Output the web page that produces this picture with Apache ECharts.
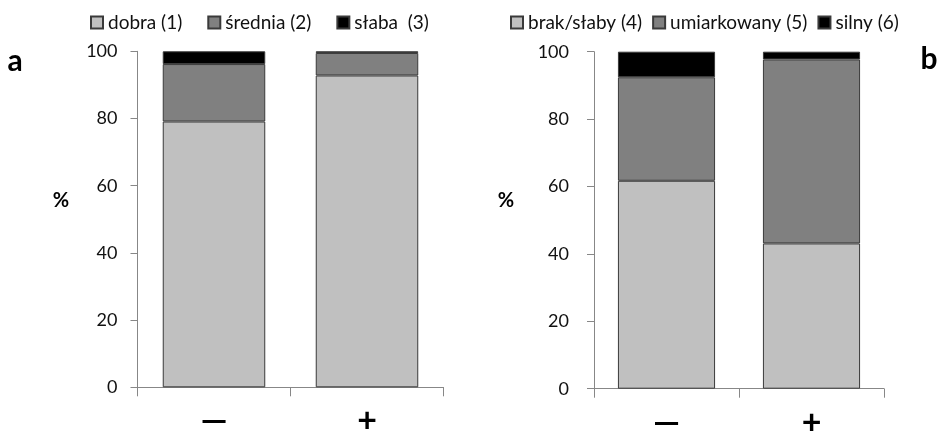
<!DOCTYPE html>
<html>
<head>
<meta charset="utf-8">
<script src="https://cdn.jsdelivr.net/npm/echarts@6/dist/echarts.min.js"></script>
<style>
  html, body { margin: 0; padding: 0; background: #fff; }
  #chart { width: 940px; height: 435px; }
</style>
</head>
<body>
<div id="chart"></div>
<script>
// Categories (absence / presence)
const categories = ['—', '+'];

// Panel a: percentages per category
const dobra = [79.1, 92.8];
const srednia = [17.1, 6.7];
const slaba = [3.8, 0.5];

// Panel b: percentages per category
const brak = [61.7, 43.1];
const umiarkowany = [30.7, 54.6];
const silny = [7.6, 2.3];

const yTicks = { min: 0, max: 100, interval: 20 };

const FONT = 'Lato';
const AXIS_GRAY = '#878787';
const BORDER = '#3a3a3a';
const C_LIGHT = '#c0c0c0';
const C_MID = '#808080';
const C_DARK = '#000000';

function yAxis(gridIndex, margin) {
  return {
    type: 'value', gridIndex: gridIndex,
    min: yTicks.min, max: yTicks.max, interval: yTicks.interval,
    axisLine: { show: true, lineStyle: { color: AXIS_GRAY, width: 1 } },
    axisTick: { show: true, length: 7, lineStyle: { color: AXIS_GRAY } },
    splitLine: { show: false },
    axisLabel: { margin: margin, fontFamily: FONT, fontSize: 18, color: '#111' }
  };
}

function xAxis(gridIndex) {
  return {
    type: 'category', gridIndex: gridIndex, data: categories,
    axisLine: { show: true, lineStyle: { color: AXIS_GRAY, width: 1 } },
    axisTick: { show: true, length: 9, alignWithLabel: false, lineStyle: { color: AXIS_GRAY } },
    axisLabel: {
      margin: 14, fontFamily: FONT, fontSize: 34, fontWeight: 'bold',
      color: '#000', lineHeight: 40
    }
  };
}

function bar(name, data, color, axisIndex) {
  return {
    name: name, type: 'bar', stack: 'p' + axisIndex,
    xAxisIndex: axisIndex, yAxisIndex: axisIndex,
    data: data, barWidth: '67%',
    itemStyle: { color: color, borderColor: BORDER, borderWidth: 1 },
    emphasis: { disabled: true }
  };
}

function legend(left, gap, names) {
  return {
    left: left, top: 8, itemGap: gap, itemWidth: 12, itemHeight: 12,
    icon: 'rect', data: names, selectedMode: false,
    textStyle: { fontFamily: FONT, fontSize: 19, color: '#111' }
  };
}

function label(text, x, y, size) {
  return {
    type: 'text', x: x, y: y,
    style: {
      text: text, fontFamily: FONT, fontSize: size, fontWeight: 'bold',
      fill: '#000', align: 'center', verticalAlign: 'middle'
    }
  };
}

const chart = echarts.init(document.getElementById('chart'), null, { renderer: 'canvas' });
chart.setOption({
  animation: false,
  backgroundColor: '#fff',
  legend: [
    legend(85, 25, ['dobra (1)', 'średnia (2)', 'słaba  (3)']),
    legend(505, 10, ['brak/słaby (4)', 'umiarkowany (5)', 'silny (6)'])
  ],
  grid: [
    { left: 137.5, top: 51.3, width: 306, height: 336, outerBoundsMode: 'none', containLabel: false },
    { left: 594, top: 51.7, width: 290, height: 337, outerBoundsMode: 'none', containLabel: false }
  ],
  xAxis: [xAxis(0), xAxis(1)],
  yAxis: [yAxis(0, 20), yAxis(1, 25)],
  series: [
    bar('dobra (1)', dobra, C_LIGHT, 0),
    bar('średnia (2)', srednia, C_MID, 0),
    bar('słaba  (3)', slaba, C_DARK, 0),
    bar('brak/słaby (4)', brak, C_LIGHT, 1),
    bar('umiarkowany (5)', umiarkowany, C_MID, 1),
    bar('silny (6)', silny, C_DARK, 1)
  ],
  graphic: [
    label('a', 15, 61, 30),
    label('b', 929, 59, 30),
    label('%', 61, 201, 20),
    label('%', 506, 201, 20)
  ]
});
</script>
</body>
</html>
